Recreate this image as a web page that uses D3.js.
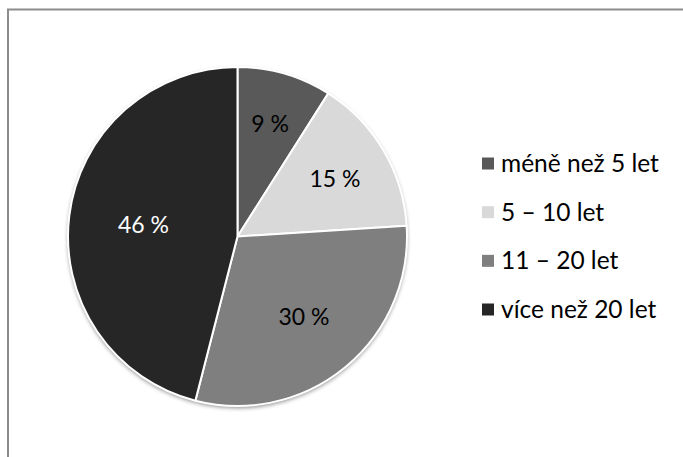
<!DOCTYPE html>
<html>
<head>
<meta charset="utf-8">
<script src="https://cdn.jsdelivr.net/npm/d3@7/dist/d3.min.js"></script>
<style>
  html, body { margin: 0; padding: 0; background: #fff; }
  svg { display: block; }
</style>
</head>
<body>
<svg id="chart" width="683" height="457"></svg>
<script>
// Délka praxe – podíly respondentů
const categories = ["méně než 5 let", "5 – 10 let", "11 – 20 let", "více než 20 let"];
const values = [9, 15, 30, 46];
const labels = ["9 %", "15 %", "30 %", "46 %"];
const colors = ["#595959", "#d9d9d9", "#7f7f7f", "#262626"];
const labelColors = ["#000", "#000", "#000", "#fff"];

const svg = d3.select("#chart");
const W = 683, H = 457;
const font = "Lato, 'Liberation Sans', sans-serif";

// chart frame (open at right and bottom)
svg.append("rect")
  .attr("x", 8).attr("y", 9.5)
  .attr("width", W + 20).attr("height", H + 20)
  .attr("fill", "#fff")
  .attr("stroke", "#8c8c8c")
  .attr("stroke-width", 2);

const defs = svg.append("defs");
const f = defs.append("filter").attr("id", "shadow")
  .attr("x", "-10%").attr("y", "-10%").attr("width", "120%").attr("height", "120%");
f.append("feDropShadow")
  .attr("dx", 0).attr("dy", 2).attr("stdDeviation", 2.2)
  .attr("flood-color", "#000").attr("flood-opacity", 0.45);

const cx = 237.5, cy = 236.5, R = 169.5;
const g = svg.append("g").attr("transform", `translate(${cx},${cy})`);

const pie = d3.pie().sort(null).value(d => d)(values);
const arc = d3.arc().innerRadius(0).outerRadius(R);
// bigger slices get their label pulled nearer the centre
const labelR = d => R * (0.72 - 0.0035 * d.value);
const labelPos = d => d3.arc().innerRadius(labelR(d)).outerRadius(labelR(d)).centroid(d);

// shadow under the whole disc
g.append("circle").attr("r", R).attr("fill", "#fff").attr("filter", "url(#shadow)");

g.selectAll("path.slice")
  .data(pie)
  .join("path")
  .attr("class", "slice")
  .attr("d", arc)
  .attr("fill", (d, i) => colors[i])
  .attr("stroke", "#fff")
  .attr("stroke-width", 2)
  .attr("stroke-linejoin", "round");

g.selectAll("text.lbl")
  .data(pie)
  .join("text")
  .attr("class", "lbl")
  .attr("transform", d => `translate(${labelPos(d)})`)
  .attr("text-anchor", "middle")
  .attr("dy", "0.35em")
  .attr("font-family", font)
  .attr("font-size", 23)
  .attr("fill", (d, i) => labelColors[i])
  .text((d, i) => labels[i]);

// legend
const legendY = d3.scalePoint().domain(categories).range([163.5, 309.5]);
const lg = svg.append("g");
const item = lg.selectAll("g").data(categories).join("g")
  .attr("transform", d => `translate(482,${legendY(d)})`);
item.append("rect")
  .attr("x", 0).attr("y", -6)
  .attr("width", 12).attr("height", 12)
  .attr("fill", (d, i) => colors[i]);
item.append("text")
  .attr("x", 19).attr("dy", "0.35em")
  .attr("font-family", font)
  .attr("font-size", 24.5)
  .attr("fill", "#000")
  .text(d => d);
</script>
</body>
</html>
